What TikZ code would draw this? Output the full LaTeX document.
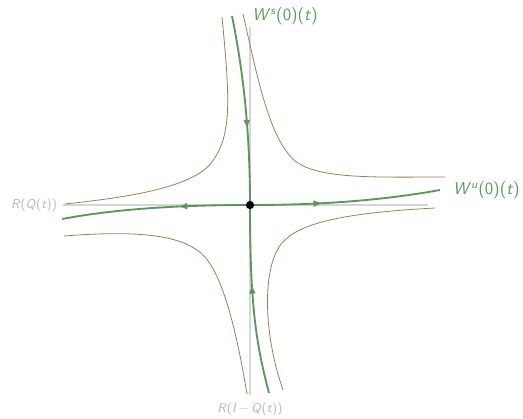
\documentclass[tikz,border=0pt]{standalone}
\usepackage{tikz}
\usetikzlibrary{arrows.meta,positioning,decorations.markings}
\definecolor{flowgreen}{RGB}{92,150,92}
\definecolor{levelbrown}{RGB}{158,122,92}
\definecolor{axisgray}{RGB}{214,214,214}
\definecolor{labelgray}{RGB}{185,185,185}

\begin{document}
\begin{tikzpicture}[
    x=0.7pt, y=-0.7pt,
    axis/.style={draw=axisgray, line width=1.1pt},
    level/.style={draw=levelbrown, line width=0.55pt},
    manifold/.style={draw=flowgreen, line width=1.3pt},
    flowmark/.style={postaction={decorate, decoration={markings,
        mark=at position #1 with {\arrow[flowgreen]{Latex[length=2.2mm,width=1.7mm]}}}}},
    axlabel/.style={inner sep=0pt, text=labelgray, font=\sffamily\small},
    mlabel/.style={inner sep=0pt, text=flowgreen, font=\sffamily\large}
]
\useasboundingbox (0,0) rectangle (523,418);

% fixed point and ends of the axes
\coordinate (O) at (250,205);
\coordinate (hl) at (63,205);
\coordinate (hr) at (428,205);
\coordinate (vt) at (250,27);
\coordinate (vb) at (250,395);

% ends of the invariant manifolds
\coordinate (st) at (232,16);
\coordinate (sb) at (269,393);
\coordinate (ul) at (62,219);
\coordinate (ur) at (440,190);

\draw[axis] (hl) -- (hr);
\draw[axis] (vt) -- (vb);

\node[axlabel, left=4pt of hl] (rq) {\textit{R}(\textit{Q}(\textit{t}))};
\node[axlabel, below=5pt of vb] (riq) {\textit{R}(\textit{I}$\,-\,$\textit{Q}(\textit{t}))};

% level curves
\draw[level] (222,17) .. controls (230,100) and (232,135) .. (212,162)
                      .. controls (192,189) and (120,198) .. (65,204);
\draw[level] (243,14) .. controls (258,80) and (268,130) .. (290,156)
                      .. controls (310,180) and (370,177) .. (445,177);
\draw[level] (64,236) .. controls (140,230) and (185,235) .. (205,257)
                      .. controls (225,280) and (238,340) .. (247,394);
\draw[level] (435,208) .. controls (360,212) and (305,220) .. (285,240)
                       .. controls (262,260) and (262,330) .. (283,390);

% stable and unstable manifolds
\draw[manifold, flowmark=0.6] (st) .. controls (244,75) and (250,135) .. (O);
\draw[manifold, flowmark=0.58] (sb) .. controls (255,340) and (250,300) .. (O);
\draw[manifold, flowmark=0.38] (O) .. controls (170,205) and (110,210) .. (ul);
\draw[manifold, flowmark=0.38] (O) .. controls (330,205) and (390,199) .. (ur);

\fill (O) circle (2.9pt);

\node[mlabel, right=14pt of st] (ws) {\textit{W}\textsuperscript{\textit{s}}(0)(\textit{t})};
\node[mlabel, right=9pt of ur] (wu) {\textit{W}\textsuperscript{\textit{u}}(0)(\textit{t})};
\end{tikzpicture}
\end{document}
